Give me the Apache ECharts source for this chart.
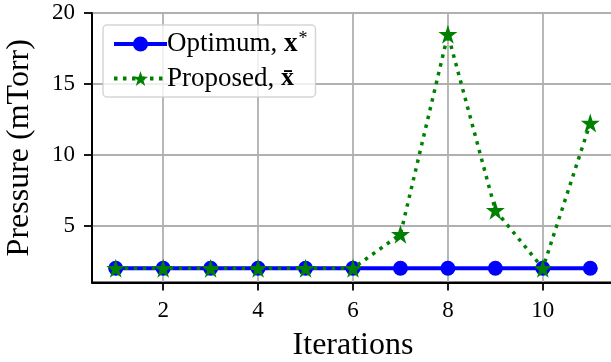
<!DOCTYPE html>
<html>
<head>
<meta charset="utf-8">
<script src="https://cdn.jsdelivr.net/npm/echarts@6/dist/echarts.min.js"></script>
<style>
  html, body { margin: 0; padding: 0; background: #fff; }
  #chart { width: 611px; height: 362px; }
</style>
</head>
<body>
<div id="chart"></div>
<script>
// Iteration index and pressure values (mTorr)
const iterations = [1, 2, 3, 4, 5, 6, 7, 8, 9, 10, 11];
const optimum = [2, 2, 2, 2, 2, 2, 2, 2, 2, 2, 2];
const proposed = [2, 2, 2, 2, 2, 2, 4.4, 18.5, 6.1, 2, 12.25];
const xTicks = [2, 4, 6, 8, 10];
const yTicks = [5, 10, 15, 20];

const FONT = '"Liberation Serif", "DejaVu Serif", serif';
const STAR = 'path://M0,-1 L0.2245,-0.309 L0.951,-0.309 L0.363,0.118 L0.588,0.809 L0,0.382 L-0.588,0.809 L-0.363,0.118 L-0.951,-0.309 L-0.2245,-0.309 Z';

const chart = echarts.init(document.getElementById('chart'), null, { renderer: 'canvas' });

const pairs = (ys) => iterations.map((x, i) => [x, ys[i]]);

chart.setOption({
  animation: false,
  backgroundColor: '#fff',
  grid: {
    left: 92, top: 13, right: -3, bottom: 79.5,
    outerBoundsMode: 'none', containLabel: false,
    show: true, borderColor: '#000', borderWidth: 1.8, backgroundColor: 'transparent'
  },
  legend: {
    orient: 'vertical',
    left: 103, top: 25,
    padding: [5, 8, 5, 9],
    backgroundColor: 'rgba(255,255,255,0.8)',
    borderColor: 'rgba(204,204,204,0.8)',
    borderWidth: 1.5,
    borderRadius: 4,
    itemWidth: 53, itemHeight: 19, itemGap: 7,
    lineStyle: { width: 4 },
    textStyle: {
      fontFamily: FONT, fontSize: 27, color: '#000', padding: [0, 0, 0, -5],
      rich: {
        t: { fontFamily: FONT, fontSize: 27, color: '#000', lineHeight: 28 },
        b: { fontFamily: FONT, fontSize: 27, fontWeight: 'bold', color: '#000', lineHeight: 28 },
        bb: { fontFamily: FONT, fontSize: 26, fontWeight: 'bold', color: '#000', lineHeight: 28 },
        s: { fontFamily: FONT, fontSize: 18, color: '#000', lineHeight: 28, padding: [0, 0, 10, 1] }
      }
    },
    formatter: (name) => name === 'opt' ? '{t|Optimum, }{b|x}{s|*}' : '{t|Proposed, }{bb|x\u0304}',
    data: ['opt', 'prop']
  },
  xAxis: {
    type: 'value', min: 0.5, max: 11.5,
    name: 'Iterations', nameLocation: 'middle', nameGap: 47,
    nameTextStyle: { fontFamily: FONT, fontSize: 32, color: '#000' },
    axisLine: { show: true, onZero: false, lineStyle: { color: '#000', width: 1.8 } },
    axisTick: { show: true, length: 8, customValues: xTicks, lineStyle: { color: '#000', width: 1.8 } },
    axisLabel: { customValues: xTicks, margin: 17, fontFamily: FONT, fontSize: 23, color: '#000' },
    splitLine: { show: true, lineStyle: { color: '#b0b0b0', width: 1.8 } }
  },
  yAxis: {
    type: 'value', min: 1, max: 20,
    name: 'Pressure (mTorr)', nameLocation: 'middle', nameGap: 56, nameRotate: 90,
    nameTextStyle: { fontFamily: FONT, fontSize: 32, color: '#000' },
    axisLine: { show: true, onZero: false, lineStyle: { color: '#000', width: 1.8 } },
    axisTick: { show: true, length: 8, customValues: yTicks, lineStyle: { color: '#000', width: 1.8 } },
    axisLabel: { customValues: yTicks, margin: 17, fontFamily: FONT, fontSize: 23, color: '#000' },
    splitLine: { show: true, lineStyle: { color: '#b0b0b0', width: 1.8 } }
  },
  series: [
    {
      name: 'opt', type: 'line', data: pairs(optimum),
      symbol: 'circle', symbolSize: 15, showAllSymbol: true,
      lineStyle: { color: '#0000ff', width: 4 },
      itemStyle: { color: '#0000ff', borderWidth: 0 },
      z: 2
    },
    {
      name: 'prop', type: 'line', data: pairs(proposed),
      symbol: STAR, symbolSize: 19, showAllSymbol: true,
      lineStyle: { color: '#008000', width: 3.5, type: [3.5, 5.5], cap: 'butt' },
      itemStyle: { color: '#008000', borderWidth: 0 },
      z: 3
    }
  ]
});
</script>
</body>
</html>
